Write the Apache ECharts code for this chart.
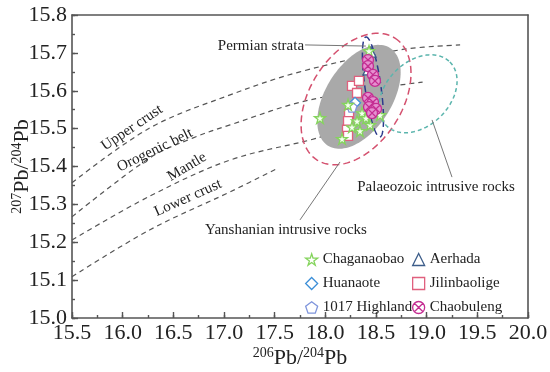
<!DOCTYPE html>
<html><head><meta charset="utf-8">
<script src="https://cdn.jsdelivr.net/npm/echarts@6/dist/echarts.min.js"></script>
<style>html,body{margin:0;padding:0;background:#fff}#c{width:550px;height:372px}</style>
</head><body><div id="c"></div>
<script>
// ---------- DATA ----------
const chaganaobao = [[18.431,15.705],[18.224,15.563],[18.362,15.541],[18.313,15.520],[18.441,15.510],[18.540,15.536],[18.342,15.494],[18.165,15.473],[17.947,15.528],[18.401,15.528],[18.263,15.504]];
const huanaote = [[18.293,15.568]];
const highland1017 = [[18.263,15.557]];
const aerhada = [[18.451,15.702],[18.421,15.655]];
const jilinbaolige = [[18.263,15.613],[18.332,15.626],[18.313,15.594],[18.234,15.539],[18.224,15.520],[18.214,15.497],[18.224,15.481]];
const chaobuleng = [[18.421,15.681],[18.421,15.665],[18.470,15.642],[18.490,15.626],[18.421,15.581],[18.470,15.570],[18.431,15.557],[18.500,15.552],[18.461,15.541]];

const upperCrustX = [15.5,16.27,17.06,17.75,18.74,19.33];
const upperCrustY = [15.357,15.502,15.589,15.650,15.708,15.721];
const orogenX = [15.5,16.27,16.69,17.06,17.85,18.96];
const orogenY = [15.267,15.423,15.475,15.510,15.576,15.623];
const mantleX = [15.5,16.27,17.06,17.92,18.05];
const mantleY = [15.206,15.322,15.417,15.475,15.490];
const lowerCrustX = [15.5,16.27,17.06,17.52];
const lowerCrustY = [15.109,15.233,15.333,15.394];

// fields: centre and two conjugate semi-axis vectors (data units)
const grayField = [18.332,15.584, 0.306,0.129, 0.275,-0.0467];
const yanshanField = [18.303,15.578, 0.384,0.161, 0.383,-0.065];
const permianField = [18.470,15.610, 0.069,-0.132, 0.078,0.003];
const palaeozoicField = [18.915,15.592, 0.314,0.0839, 0.223,-0.0596];

const xRange = [15.5, 20.0, 0.5];
const yRange = [15.0, 15.8, 0.1];
const xTickLabels = ['15.5','16.0','16.5','17.0','17.5','18.0','18.5','19.0','19.5','20.0'];
const yTickLabels = ['15.0','15.1','15.2','15.3','15.4','15.5','15.6','15.7','15.8'];

// ---------- LAYOUT / STYLE ----------
const FONT = '"Liberation Serif","Times New Roman",serif';
const curveLabels = [
  {text:'Upper crust', at:[16.092,15.502], rot:34},
  {text:'Orogenic belt', at:[16.319,15.443], rot:26},
  {text:'Mantle', at:[16.635,15.399], rot:31},
  {text:'Lower crust', at:[16.645,15.317], rot:24}
];
const notes = [
  {text:'Permian strata', at:[17.79,15.718], align:'right', line:[[17.80,15.721],[18.40,15.718]]},
  {text:'Yanshanian intrusive rocks', at:[17.612,15.231], align:'center', line:[[17.75,15.259],[18.145,15.412]]},
  {text:'Palaeozoic intrusive rocks', at:[19.092,15.346], align:'center', line:[[19.053,15.523],[19.25,15.372]]}
];

const STAR = 'path://M50,0 L61,35 L98,35 L68,57 L79,91 L50,70 L21,91 L32,57 L2,35 L39,35 Z';
const PENT = 'path://M50,0 L98,35 L79,91 L21,91 L2,35 Z';
const XCIRC = 'path://M50,4 A46,46 0 1,1 49.9,4 Z M17,17 L83,83 M83,17 L17,83';

function zipXY(xs, ys){ return xs.map((x,i)=>[x, ys[i]]); }

function curve(name, xs, ys){
  return {type:'line', name, data:zipXY(xs,ys), smooth:0.35, showSymbol:false, silent:true, z:1,
    lineStyle:{color:'#555', width:1.2, type:[5,4]}};
}

function ellipse(name, f, style, z){
  return {type:'custom', name, silent:true, z, clip:false, data:[[f[0], f[1]]],
    renderItem(params, api){
      const pts = [];
      for(let i=0;i<120;i++){
        const t = i/120*2*Math.PI;
        pts.push(api.coord([f[0]+f[2]*Math.cos(t)+f[4]*Math.sin(t), f[1]+f[3]*Math.cos(t)+f[5]*Math.sin(t)]));
      }
      return {type:'polygon', shape:{points:pts}, style};
    }};
}

function pointSeries(name, data, symbol, size, fill, stroke, z){
  return {type:'scatter', name, data, symbol, symbolSize:size, z: z||5,
    itemStyle:{color:fill, borderColor:stroke, borderWidth:1.3, opacity:1}};
}

function legendItem(name, stroke){
  return {name, itemStyle:{color:'#fff', borderColor:stroke, borderWidth:1.3}};
}

const axisCol = '#555';

const annoSeries = {
  type:'custom', name:'anno', silent:true, z:8, clip:false,
  data:[[16,15.5]],
  renderItem(params, api){
    const children = [];
    curveLabels.forEach(c=>{
      const p = api.coord(c.at);
      children.push({type:'text', x:p[0], y:p[1], rotation:c.rot*Math.PI/180,
        style:{text:c.text, font:'15px '+FONT, fill:'#222', align:'center', verticalAlign:'middle'}});
    });
    notes.forEach(n=>{
      const p = api.coord(n.at);
      children.push({type:'text', x:p[0], y:p[1],
        style:{text:n.text, font:'15px '+FONT, fill:'#222', align:n.align, verticalAlign:'middle'}});
      const a = api.coord(n.line[0]), b = api.coord(n.line[1]);
      children.push({type:'line', shape:{x1:a[0],y1:a[1],x2:b[0],y2:b[1]}, style:{stroke:'#777', lineWidth:1}});
    });
    return {type:'group', children};
  }
};

// tick-only axes shifted inward so that their outward ticks end on the frame
function tickAxisX(interval, len){
  return {type:'value', min:xRange[0], max:xRange[1], interval, position:'bottom', offset:-len,
    axisLine:{show:false, onZero:false}, axisLabel:{show:false}, splitLine:{show:false},
    axisTick:{show:true, inside:false, length:len, lineStyle:{color:axisCol, width:1.4}}};
}
function tickAxisY(interval, len){
  return {type:'value', min:yRange[0], max:yRange[1], interval, position:'left', offset:-len,
    axisLine:{show:false, onZero:false}, axisLabel:{show:false}, splitLine:{show:false},
    axisTick:{show:true, inside:false, length:len, lineStyle:{color:axisCol, width:1.4}}};
}

const legendText = {fontFamily:FONT, fontSize:15, color:'#222'};
const option = {
  animation:false,
  backgroundColor:'#fff',
  grid:{left:72, right:22, top:15, bottom:54, containLabel:false, outerBoundsMode:'none'},
  xAxis:[{
    type:'value', min:xRange[0], max:xRange[1], interval:xRange[2], position:'bottom',
    axisLine:{show:true, onZero:false, lineStyle:{color:axisCol, width:1.6}},
    axisTick:{show:false}, minorTick:{show:false},
    splitLine:{show:false},
    axisLabel:{fontFamily:FONT, fontSize:22, color:'#222', margin:4, formatter:v=>xTickLabels[Math.round((v-xRange[0])/xRange[2])]},
    name:'{s|206}{n|Pb/}{s|204}{n|Pb}', nameLocation:'middle', nameGap:28, nameMoveOverlap:false,
    nameTextStyle:{rich:{
      s:{fontFamily:FONT, fontSize:14, color:'#222', verticalAlign:'top', lineHeight:24},
      n:{fontFamily:FONT, fontSize:22, color:'#222', lineHeight:24}}}
  },{
    type:'value', min:xRange[0], max:xRange[1], position:'top',
    axisLine:{show:true, onZero:false, lineStyle:{color:axisCol, width:1.6}},
    axisTick:{show:false}, axisLabel:{show:false}, splitLine:{show:false}
  },
  tickAxisX(xRange[2], 6),
  tickAxisX(xRange[2]/2, 3)
  ],
  yAxis:[{
    type:'value', min:yRange[0], max:yRange[1], interval:yRange[2], position:'left',
    axisLine:{show:true, onZero:false, lineStyle:{color:axisCol, width:1.6}},
    axisTick:{show:false}, minorTick:{show:false},
    splitLine:{show:false},
    axisLabel:{fontFamily:FONT, fontSize:22, color:'#222', margin:5, formatter:v=>yTickLabels[Math.round((v-yRange[0])/yRange[2])]},
    name:'{s|207}{n|Pb/}{s|204}{n|Pb}', nameLocation:'middle', nameGap:38, nameRotate:90, nameMoveOverlap:false,
    nameTextStyle:{rich:{
      s:{fontFamily:FONT, fontSize:14, color:'#222', verticalAlign:'top', lineHeight:24},
      n:{fontFamily:FONT, fontSize:22, color:'#222', lineHeight:24}}}
  },{
    type:'value', min:yRange[0], max:yRange[1], position:'right',
    axisLine:{show:true, onZero:false, lineStyle:{color:axisCol, width:1.6}},
    axisTick:{show:false}, axisLabel:{show:false}, splitLine:{show:false}
  },
  tickAxisY(yRange[2], 6),
  tickAxisY(yRange[2]/2, 3)
  ],
  legend:[{
    orient:'vertical', left:305, top:252, padding:0, itemWidth:12, itemHeight:12, itemGap:9,
    textStyle:legendText,
    data:[legendItem('Chaganaobao','#84d45c'), legendItem('Huanaote','#3c8fd8'), legendItem('1017 Highland','#7f95dc')]
  },{
    orient:'vertical', left:412, top:252, padding:0, itemWidth:12, itemHeight:12, itemGap:9,
    textStyle:legendText,
    data:[legendItem('Aerhada','#3d5d8a'), legendItem('Jilinbaolige','#e0607e'), legendItem('Chaobuleng','#c42d92')]
  }],
  series:[
    curve('Upper crust line', upperCrustX, upperCrustY),
    curve('Orogenic belt line', orogenX, orogenY),
    curve('Mantle line', mantleX, mantleY),
    curve('Lower crust line', lowerCrustX, lowerCrustY),
    ellipse('gray', grayField, {fill:'#a9a9a9', stroke:'none'}, 2),
    ellipse('yanshan', yanshanField, {fill:'none', stroke:'#d4506e', lineWidth:1.5, lineDash:[7,4]}, 3),
    ellipse('permian', permianField, {fill:'none', stroke:'#2c3a8c', lineWidth:1.5, lineDash:[7,4]}, 3),
    ellipse('palaeozoic', palaeozoicField, {fill:'none', stroke:'#5bb5ad', lineWidth:1.5, lineDash:[4,3]}, 3),
    pointSeries('Jilinbaolige', jilinbaolige, 'rect', 9, '#fff', '#e0607e'),
    pointSeries('Huanaote', huanaote, 'diamond', 11, '#fff', '#3c8fd8'),
    pointSeries('1017 Highland', highland1017, PENT, 10, '#fff', '#7f95dc'),
    pointSeries('Aerhada', aerhada, 'triangle', 10, '#fff', '#3d5d8a'),
    pointSeries('Chaganaobao', chaganaobao, STAR, 11, '#f4fff0', '#84d45c'),
    pointSeries('Chaobuleng', chaobuleng, XCIRC, 11, '#e590cf', '#c42d92', 6),
    annoSeries
  ]
};
const chart = echarts.init(document.getElementById('c'), null, {renderer:'canvas'});
chart.setOption(option);
</script></body></html>
